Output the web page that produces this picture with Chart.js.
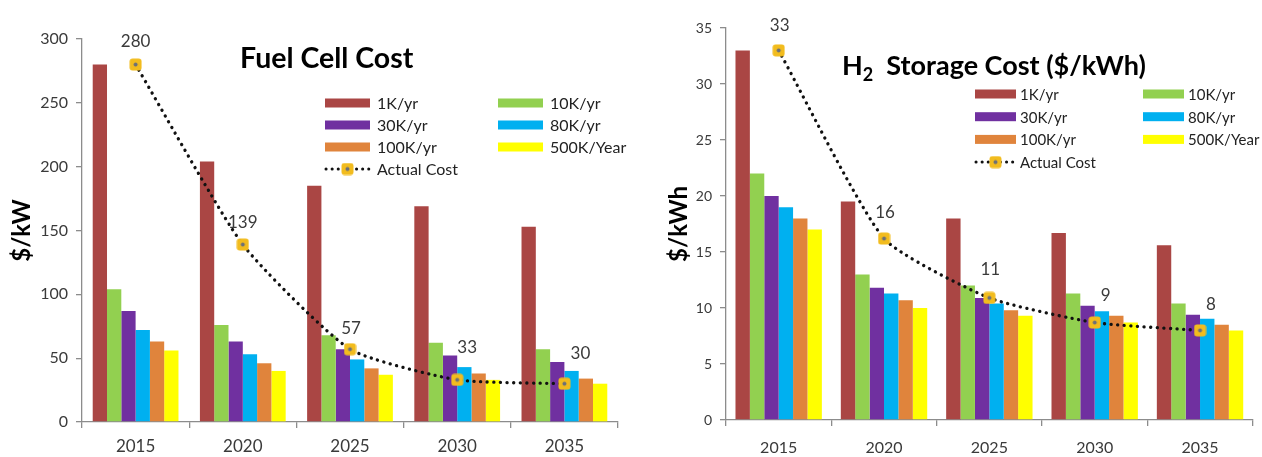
<!DOCTYPE html>
<html>
<head>
<meta charset="utf-8">
<script src="https://cdn.jsdelivr.net/npm/chart.js@4.4.0/dist/chart.umd.min.js"></script>
<style>
  html, body { margin: 0; padding: 0; background: #fff; }
  body { width: 1262px; height: 457px; position: relative; overflow: hidden; }
  .box { position: absolute; top: 0; width: 630px; height: 457px; }
  #fuelBox { left: 0; }
  #storageBox { left: 632px; }
</style>
</head>
<body>
<div class="box" id="fuelBox"><canvas id="fuelChart"></canvas></div>
<div class="box" id="storageBox"><canvas id="storageChart"></canvas></div>
<script>
// categories and series names
const years = ['2015', '2020', '2025', '2030', '2035'];
const seriesNames = ['1K/yr', '10K/yr', '30K/yr', '80K/yr', '100K/yr', '500K/Year'];
const actualName = 'Actual Cost';

// Fuel cell cost ($/kW)
const fuel1K = [280, 204, 185, 169, 153];
const fuel10K = [104, 76, 68, 62, 57];
const fuel30K = [87, 63, 57, 52, 47];
const fuel80K = [72, 53, 49, 43, 40];
const fuel100K = [63, 46, 42, 38, 34];
const fuel500K = [56, 40, 37, 33, 30];
const fuelActual = [280, 139, 57, 33, 30];
const fuelTicks = [0, 50, 100, 150, 200, 250, 300];

// H2 storage cost ($/kWh)
const storage1K = [33, 19.5, 18, 16.7, 15.6];
const storage10K = [22, 13, 12, 11.3, 10.4];
const storage30K = [20, 11.8, 10.9, 10.2, 9.4];
const storage80K = [19, 11.3, 10.4, 9.7, 9.05];
const storage100K = [18, 10.7, 9.8, 9.3, 8.5];
const storage500K = [17, 10, 9.3, 8.7, 8.0];
const storageActual = [33, 16.2, 10.9, 8.7, 8.0];
const storageTicks = [0, 5, 10, 15, 20, 25, 30, 35];

const barColors = ['#AA4644', '#92D050', '#7030A0', '#00B0F0', '#E0843C', '#FFFF00'];
const axisGrey = '#8c8c8c';
const textGrey = '#3a3a3a';

Chart.defaults.font.family = 'Lato, "Open Sans", sans-serif';
Chart.defaults.color = textGrey;

// gold square marker with a dark centre, like the excel marker
function makeMarker() {
  const c = document.createElement('canvas');
  c.width = 13; c.height = 13;
  const g = c.getContext('2d');
  g.fillStyle = '#F2BC1E';
  g.beginPath();
  g.roundRect(0.5, 0.5, 12, 12, 3);
  g.fill();
  g.fillStyle = '#6c7077';
  g.beginPath();
  g.arc(6.5, 6.5, 2, 0, Math.PI * 2);
  g.fill();
  return c;
}
const marker = makeMarker();

// title drawn inside the plot, with optional subscript parts
const chartTitle = {
  id: 'chartTitle',
  afterDraw(chart, args, opts) {
    const ctx = chart.ctx;
    ctx.save();
    ctx.fillStyle = '#000';
    ctx.textBaseline = 'alphabetic';
    let x = opts.x;
    opts.parts.forEach(p => {
      ctx.font = p.font;
      ctx.fillText(p.text, x, opts.y + (p.dy || 0));
      x += ctx.measureText(p.text).width;
    });
    ctx.restore();
  }
};

// two-column legend sitting inside the plot
const gridLegend = {
  id: 'gridLegend',
  afterDraw(chart, args, opts) {
    const ctx = chart.ctx;
    ctx.save();
    ctx.font = opts.font;
    ctx.textBaseline = 'middle';
    chart.data.datasets.forEach((ds, k) => {
      const col = k % 2, row = Math.floor(k / 2);
      const x = opts.cols[col];
      const y = opts.top + row * opts.rowH;
      if (ds.type === 'line') {
        ctx.save();
        ctx.strokeStyle = '#111';
        ctx.lineWidth = 3;
        ctx.lineCap = 'round';
        ctx.setLineDash([0.1, 6]);
        ctx.beginPath();
        ctx.moveTo(x + 1, y);
        ctx.lineTo(x + opts.boxW, y);
        ctx.stroke();
        ctx.restore();
        ctx.drawImage(marker, x + opts.boxW / 2 - 6.5, y - 6.5);
      } else {
        ctx.fillStyle = ds.backgroundColor;
        ctx.fillRect(x, y - opts.boxH / 2, opts.boxW, opts.boxH);
      }
      ctx.fillStyle = '#222';
      ctx.fillText(ds.label, x + opts.boxW + opts.gap, y + 1);
    });
    ctx.restore();
  }
};

// value labels next to the actual-cost markers
const pointLabels = {
  id: 'pointLabels',
  afterDatasetsDraw(chart, args, opts) {
    const ctx = chart.ctx;
    const idx = chart.data.datasets.findIndex(d => d.type === 'line');
    const meta = chart.getDatasetMeta(idx);
    ctx.save();
    ctx.font = opts.font;
    ctx.fillStyle = textGrey;
    ctx.textAlign = 'center';
    ctx.textBaseline = 'middle';
    meta.data.forEach((pt, i) => {
      const v = chart.data.datasets[idx].data[i];
      const s = opts.shift[i];
      ctx.fillText(String(Math.round(v)), pt.x + s[0], pt.y + s[1]);
    });
    ctx.restore();
  }
};

function buildChart(id, series, actual, ticks, st) {
  const datasets = series.map((vals, i) => ({
    label: seriesNames[i],
    data: vals,
    backgroundColor: barColors[i],
    borderWidth: 0,
    order: 1,
    categoryPercentage: st.catPct,
    barPercentage: 1
  }));
  datasets.push({
    type: 'line',
    label: actualName,
    data: actual,
    borderColor: '#111',
    borderWidth: 3.3,
    borderDash: [0.1, 6.5],
    borderCapStyle: 'round',
    fill: false,
    tension: 0.18,
    pointStyle: marker,
    pointRadius: 6,
    order: 0
  });

  return new Chart(document.getElementById(id), {
    type: 'bar',
    data: { labels: years, datasets: datasets },
    plugins: [chartTitle, gridLegend, pointLabels],
    options: {
      responsive: true,
      maintainAspectRatio: false,
      animation: false,
      layout: { padding: { top: st.top, right: st.right, bottom: 0, left: 0 } },
      plugins: {
        legend: { display: false },
        tooltip: { enabled: false },
        chartTitle: st.title,
        gridLegend: st.legend,
        pointLabels: st.labels
      },
      scales: {
        x: {
          afterFit: s => { s.height = st.xHeight; },
          border: { color: axisGrey, width: 1.3 },
          grid: { offset: true, drawOnChartArea: false, tickLength: 6, color: axisGrey, lineWidth: 1.3 },
          ticks: { font: { size: st.xFont }, padding: st.xPad, color: textGrey }
        },
        y: {
          min: 0,
          max: ticks[ticks.length - 1],
          afterFit: s => { s.width = st.yWidth; },
          afterBuildTicks: s => { s.ticks = ticks.map(v => ({ value: v })); },
          border: { color: axisGrey, width: 1.3 },
          grid: { drawOnChartArea: false, tickLength: 6, color: axisGrey, lineWidth: 1.3 },
          ticks: { font: { size: st.yFont }, padding: 8, color: textGrey },
          title: {
            display: true,
            text: st.yTitle,
            color: '#000',
            font: { size: 24, weight: 'bold' },
            padding: { top: st.yTitlePad, bottom: 0 }
          }
        }
      }
    }
  });
}

buildChart('fuelChart',
  [fuel1K, fuel10K, fuel30K, fuel80K, fuel100K, fuel500K],
  fuelActual, fuelTicks, {
    top: 39, right: 12, yWidth: 82, xHeight: 35, xPad: 8, xFont: 17, yFont: 16, catPct: 0.8,
    yTitle: '$/kW', yTitlePad: 8,
    title: { x: 240, y: 68, parts: [{ text: 'Fuel Cell Cost', font: 'bold 28.5px Lato, sans-serif' }] },
    legend: { cols: [325, 498], top: 103, rowH: 22, boxW: 45, boxH: 9, gap: 7, font: '16px Lato, sans-serif' },
    labels: { font: '17px Lato, sans-serif', shift: [[0, -23], [0, -22], [1, -21], [10, -32], [16, -30]] }
  });

buildChart('storageChart',
  [storage1K, storage10K, storage30K, storage80K, storage100K, storage500K],
  storageActual, storageTicks, {
    top: 28, right: 9, yWidth: 94, xHeight: 37, xPad: 12, xFont: 16, yFont: 14, catPct: 0.82,
    yTitle: '$/kWh', yTitlePad: 33,
    title: { x: 210, y: 75, parts: [
      { text: 'H', font: 'bold 27px Lato, sans-serif' },
      { text: '2', font: 'bold 18px Lato, sans-serif', dy: 6 },
      { text: '  Storage Cost ($/kWh)', font: 'bold 27px Lato, sans-serif' }
    ] },
    legend: { cols: [343, 511], top: 94, rowH: 22.7, boxW: 41, boxH: 9, gap: 4, font: '15px Lato, sans-serif' },
    labels: { font: '17px Lato, sans-serif', shift: [[1, -25], [1, -26], [1, -28], [11, -27], [11, -26]] }
  });
</script>
</body>
</html>
